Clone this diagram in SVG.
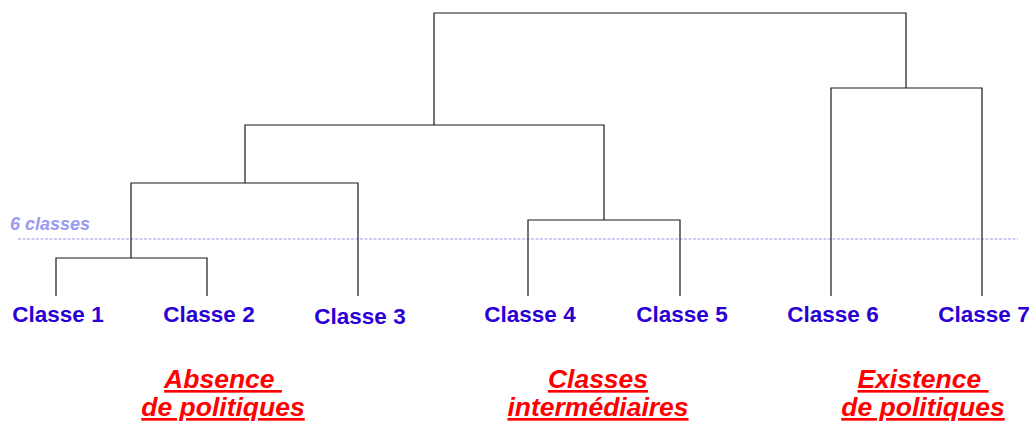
<svg xmlns="http://www.w3.org/2000/svg" width="1032" height="421" viewBox="0 0 1032 421">
<style>
.ln{fill:none;stroke:#1a1a1a;stroke-width:1.2}
.cl{font-family:"Liberation Sans",Arial,sans-serif;font-weight:bold;font-size:22.5px;fill:#2a00d4;text-anchor:middle}
.grp{font-family:"Liberation Sans",Arial,sans-serif;font-weight:bold;font-style:italic;font-size:26.5px;fill:#ff0000;text-anchor:middle;text-decoration:underline}
</style>
<rect width="1032" height="421" fill="#ffffff"/>
<g id="cut">
<line x1="18" y1="239" x2="1018" y2="239" stroke="#9a9ae8" stroke-width="1" stroke-dasharray="3,1.5"/>
<text x="10" y="230" font-family="Liberation Sans,Arial,sans-serif" font-weight="bold" font-style="italic" font-size="18" fill="#9a9af0">6 classes</text>
</g>
<g id="connectors">
<path class="ln" d="M56,296V258H207V296"/>
<path class="ln" d="M131,258V183H358V296"/>
<path class="ln" d="M528,296V220H680V296"/>
<path class="ln" d="M245,183V125H604V220"/>
<path class="ln" d="M831,296V88H982V296"/>
<path class="ln" d="M434,125V13H906V88"/>
</g>
<g id="classe1"><text class="cl" x="58" y="322">Classe 1</text></g>
<g id="classe2"><text class="cl" x="209" y="322">Classe 2</text></g>
<g id="classe3"><text class="cl" x="360" y="324">Classe 3</text></g>
<g id="classe4"><text class="cl" x="530" y="322">Classe 4</text></g>
<g id="classe5"><text class="cl" x="682" y="322">Classe 5</text></g>
<g id="classe6"><text class="cl" x="833" y="322">Classe 6</text></g>
<g id="classe7"><text class="cl" x="984" y="322">Classe 7</text></g>
<g id="absence"><text class="grp" x="223" y="388" xml:space="preserve">Absence </text><text class="grp" x="223" y="416">de politiques</text></g>
<g id="intermediaires"><text class="grp" x="598" y="388">Classes</text><text class="grp" x="598" y="416">intermédiaires</text></g>
<g id="existence"><text class="grp" x="923" y="388" xml:space="preserve">Existence </text><text class="grp" x="923" y="416">de politiques</text></g>
</svg>
